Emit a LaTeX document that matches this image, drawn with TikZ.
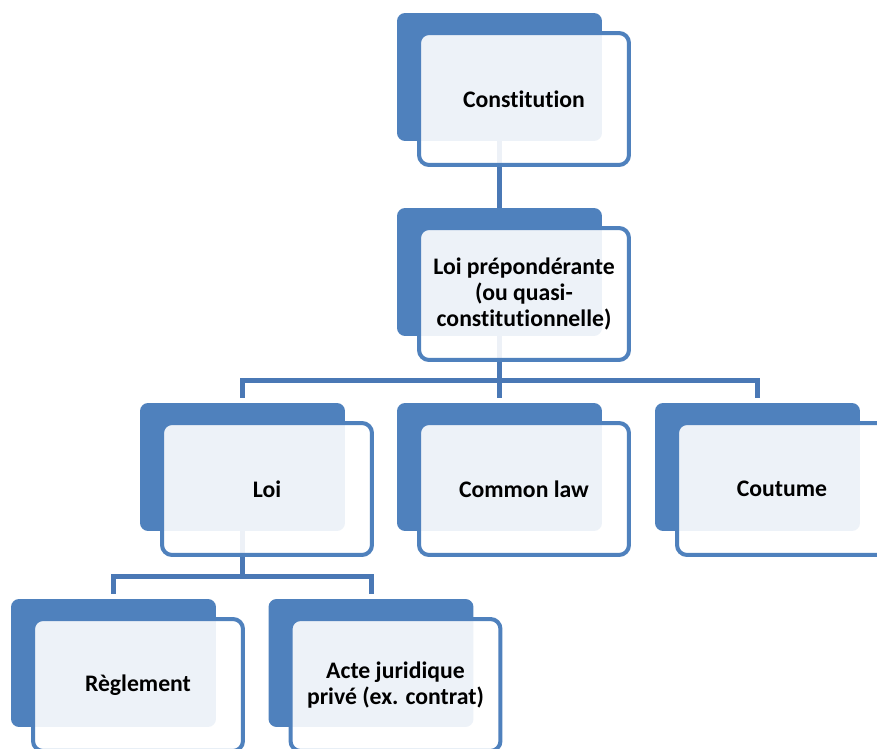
\documentclass[tikz,border=0pt]{standalone}
\usepackage{fontspec}
\setmainfont{Carlito}[Ligatures={NoCommon}]

\definecolor{orgblue}{HTML}{4F81BD}
\definecolor{linkblue}{HTML}{4A78B5}

\begin{document}
\begin{tikzpicture}[
  x=0.02cm, y=-0.02cm,
  backbox/.style={fill=orgblue,rounded corners=0.16cm,minimum width=4.1cm,minimum height=2.56cm,inner sep=0pt},
  frontbox/.style={draw=orgblue,line width=0.08cm,fill=white,fill opacity=0.9,text opacity=1,
    rounded corners=0.2cm,minimum width=4.2cm,minimum height=2.64cm,inner sep=0pt,
    align=center,font=\fontsize{13.5}{15}\selectfont\bfseries},
  link/.style={draw=linkblue,line width=0.1cm}
]
\useasboundingbox (0,0) rectangle (877,749);
\clip (0,0) rectangle (877,749);

% back blocks
\node[backbox] (cons-b) at (499.5,77) {};
\node[backbox] (loip-b) at (499.5,272) {};
\node[backbox] (loi-b) at (242.5,467) {};
\node[backbox] (common-b) at (499.5,467) {};
\node[backbox] (cout-b) at (757.5,467) {};
\node[backbox] (regl-b) at (113.5,663) {};
\node[backbox] (acte-b) at (371,663) {};

% connectors
\coordinate (bar1) at (499.5,381);
\coordinate (bar2) at (242.5,577);
\draw[link] (cons-b) -- (loip-b);
\draw[link] (loip-b.south) -- (bar1);
\draw[link,shorten >=0.1cm] (bar1) -| (loi-b.north);
\draw[link,shorten >=0.1cm] (bar1) -- (common-b.north);
\draw[link,shorten >=0.1cm] (bar1) -| (cout-b.north);
\draw[link] (loi-b.south) -- (bar2);
\draw[link,shorten >=0.1cm] (bar2) -| (regl-b.north);
\draw[link,shorten >=0.1cm] (bar2) -| (acte-b.north);

% front blocks
\node[frontbox] (cons) at (524,99) {Constitution};
\node[frontbox] (loip) at (524,294) {Loi prépondérante\\(ou quasi-\\constitutionnelle)};
\node[frontbox] (loi) at (267,489) {Loi};
\node[frontbox] (common) at (524,489) {Common law};
\node[frontbox] (cout) at (782,489) {Coutume};
\node[frontbox] (regl) at (138,685) {Règlement};
\node[frontbox] (acte) at (395.5,685) {Acte juridique\\privé (ex. contrat)};
\end{tikzpicture}
\end{document}
